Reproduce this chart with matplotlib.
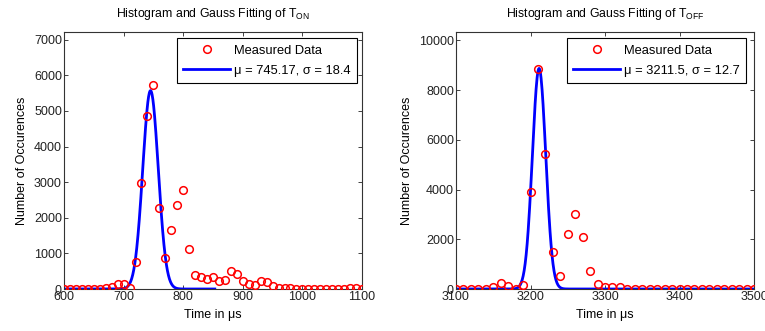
import numpy as np
import matplotlib
matplotlib.use('Agg')
import matplotlib.pyplot as plt

plt.rcParams['font.family'] = ['Liberation Sans', 'DejaVu Sans']
plt.rcParams['mathtext.fontset'] = 'custom'
plt.rcParams['mathtext.rm'] = 'Liberation Sans'
plt.rcParams['mathtext.it'] = 'Liberation Sans:italic'
plt.rcParams['font.size'] = 9

# T_ON histogram (bin centres every 10 us)
t_on = np.arange(600, 1101, 10)
n_on = [0, 0, 0, 0, 0, 0, 0, 30, 70, 130,
        130, 40, 770, 2970, 4860, 5730, 2260, 880, 1670, 2370,
        2770, 1110, 400, 350, 280, 330, 220, 260, 500, 430,
        215, 140, 100, 215, 190, 80, 40, 20, 15, 10,
        10, 10, 10, 10, 10, 10, 5, 5, 20, 20, 10]
mu_on, sig_on, amp_on = 745.17, 18.4, 5570
fit_on_range = (600, 853)

# T_OFF histogram
t_off = np.arange(3100, 3501, 10)
n_off = [0, 0, 0, 0, 0, 100, 240, 120, 0, 150,
         3890, 8860, 5420, 1500, 540, 2200, 3000, 2080, 740, 190,
         80, 80, 90, 20, 20, 20, 20, 20, 20, 20,
         20, 20, 20, 20, 20, 20, 20, 20, 20, 20, 20]
mu_off, sig_off, amp_off = 3211.5, 12.7, 8870
fit_off_range = (3100, 3500)

fig = plt.figure(figsize=(7.65, 3.31), dpi=100)
W, H = 765, 331


def panel(rect, t, n, mu, sig, amp, frange, xlim, xticks, ylim, yticks, sub, legrect):
    ax = fig.add_axes([rect[0] / W, 1 - rect[3] / H, (rect[2] - rect[0]) / W, (rect[3] - rect[1]) / H])
    # gauss1 model: a*exp(-((x-b)/c)^2)
    xf = np.linspace(frange[0], frange[1], 600)
    yf = amp * np.exp(-((xf - mu) / sig) ** 2)
    ax.plot(t, n, 'o', mfc='none', mec='red', ms=5.5, mew=1.1, label='Measured Data', zorder=3)
    ax.plot(xf, yf, '-', color='#0000ff', lw=2,
            label='\u03bc = %s, \u03c3 = %s' % (mu, sig), zorder=2)
    ax.set_xlim(*xlim)
    ax.set_xticks(xticks)
    ax.set_ylim(*ylim)
    ax.set_yticks(yticks)
    ax.tick_params(direction='in', top=True, right=True, length=3, width=0.6,
                   labelsize=9, pad=1.5, colors='#222222')
    for s in ax.spines.values():
        s.set_linewidth(0.8)
        s.set_color('#333333')
    ax.set_title('Histogram and Gauss Fitting of T$_{\\mathrm{%s}}$' % sub, fontsize=8.8, pad=11)
    ax.set_xlabel('Time in \u03bcs', fontsize=9, labelpad=4)
    ax.set_ylabel('Number of Occurences', fontsize=9, labelpad=4)
    lx0 = (legrect[0] - rect[0]) / (rect[2] - rect[0])
    ly1 = (rect[3] - legrect[1]) / (rect[3] - rect[1])
    leg = ax.legend(loc='upper left', bbox_to_anchor=(lx0, ly1), numpoints=1,
                    fancybox=False, edgecolor='black', framealpha=1,
                    fontsize=9.3, handlelength=3.6, borderpad=0.5,
                    labelspacing=0.65, handletextpad=0.3, borderaxespad=0)
    leg.get_frame().set_linewidth(0.8)
    return ax


panel((64, 32, 362, 289), t_on, n_on, mu_on, sig_on, amp_on, fit_on_range,
      (600, 1100), np.arange(600, 1101, 100), (0, 7215), np.arange(0, 7001, 1000), 'ON', (177, 38))
panel((456, 32, 754, 289), t_off, n_off, mu_off, sig_off, amp_off, fit_off_range,
      (3100, 3500), np.arange(3100, 3501, 100), (0, 10335), np.arange(0, 10001, 2000), 'OFF', (567, 38))

fig.savefig('out.png', dpi=100)
